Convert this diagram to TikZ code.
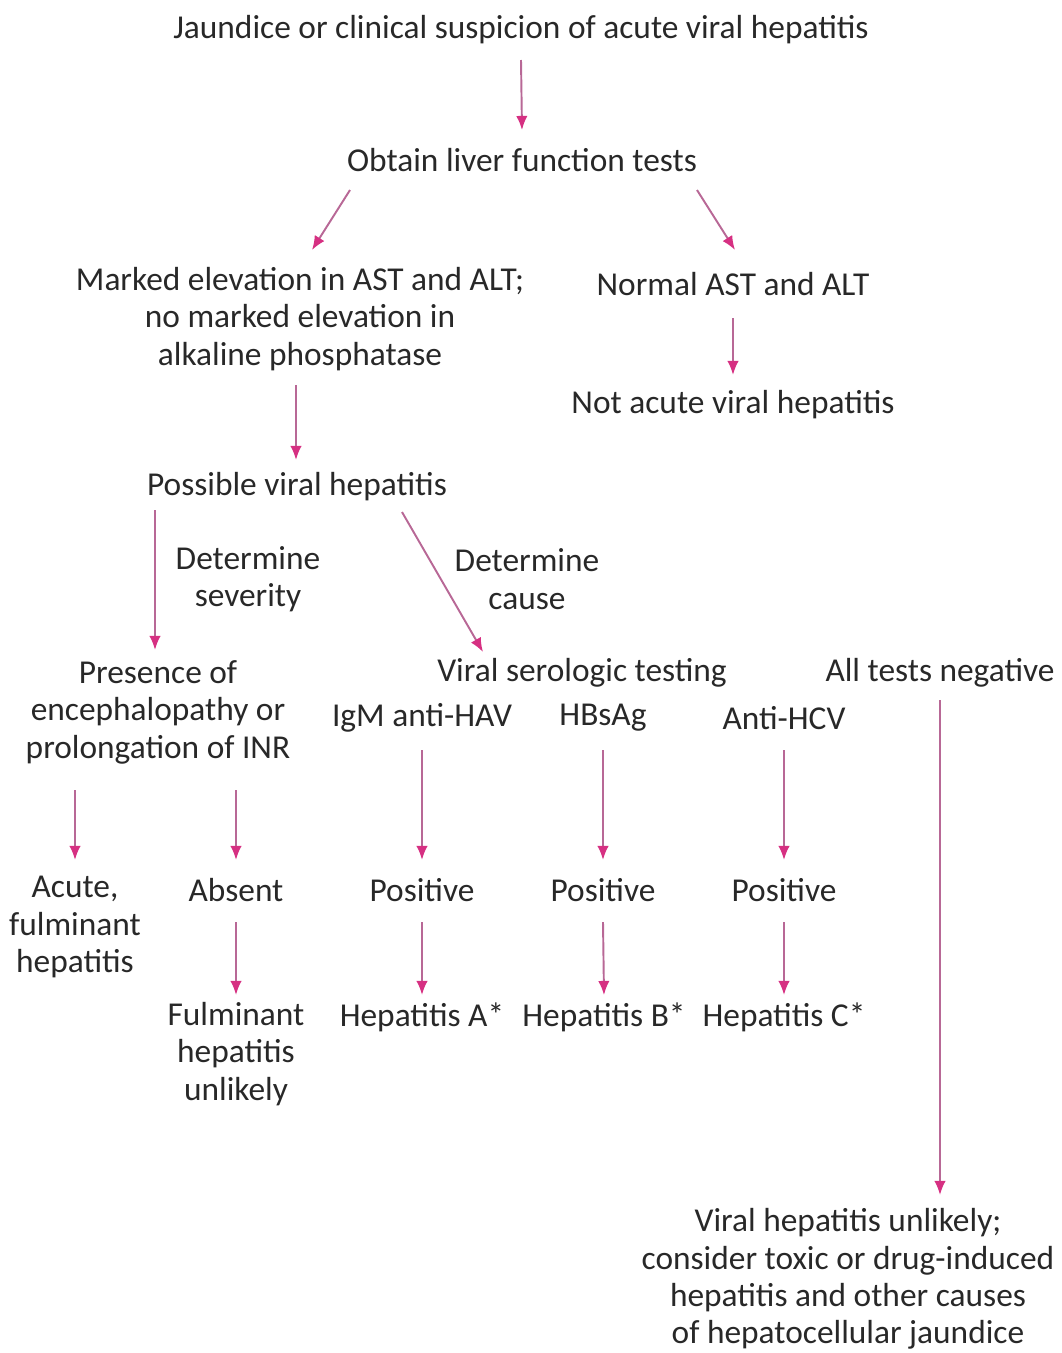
\documentclass[tikz,border=0pt]{standalone}
\usepackage{fontspec}
\setmainfont{Carlito}
\usepackage{tikz}
\usetikzlibrary{arrows.meta, calc}
\definecolor{txtgray}{RGB}{40,40,40}
\definecolor{shaftpink}{RGB}{184,104,150}
\definecolor{tippink}{RGB}{214,48,130}
\tikzstyle{every node}=[font=\fontsize{19}{21.3}\selectfont, text=txtgray]
\tikzstyle{txt}=[align=center, inner sep=0pt]
\tikzstyle{arr}=[draw=shaftpink, line width=1.1pt, -{Latex[length=8pt,width=6.5pt,color=tippink]}]

\begin{document}
\begin{tikzpicture}[x=0.02cm, y=-0.02cm]
  \useasboundingbox (0,0) rectangle (1062,1353);
  % top of the chart
  \node[txt] (jaundice) at (521,30) {Jaundice or clinical suspicion of acute viral hepatitis};
  \node[txt] (lft) at (522,160) {Obtain liver function tests};
  \node[txt] (marked) at (300,319) {Marked elevation in AST and ALT;\\ no marked elevation in\\ alkaline phosphatase};
  \node[txt] (normal) at (733,284) {Normal AST and ALT};
  \node[txt] (notacute) at (733,405) {Not acute viral hepatitis};
  \node[txt] (possible) at (297,487) {Possible viral hepatitis};
  \node[txt] (severity) at (248,579) {Determine\\ severity};
  \node[txt] (cause) at (527,579) {Determine\\ cause};
  % severity branch
  \node[txt] (presence) at (158,712) {Presence of\\ encephalopathy or\\ prolongation of INR};
  \node[txt] (acute) at (75,927) {Acute,\\ fulminant\\ hepatitis};
  \node[txt] (absent) at (236,890) {Absent};
  \node[txt] (unlikely) at (236,1054) {Fulminant\\ hepatitis\\ unlikely};
  % cause branch
  \node[txt] (serology) at (582,673) {Viral serologic testing};
  \node[txt] (negative) at (940,673) {All tests negative};
  \node[txt] (hav) at (422,718) {IgM anti-HAV};
  \node[txt] (hbs) at (603,718) {HBsAg};
  \node[txt] (hcv) at (784,718) {Anti-HCV};
  \node[txt] (posA) at (422,890) {Positive};
  \node[txt] (posB) at (603,890) {Positive};
  \node[txt] (posC) at (784,890) {Positive};
  \node[txt] (hepA) at (422,1017) {Hepatitis A*};
  \node[txt] (hepB) at (604,1017) {Hepatitis B*};
  \node[txt] (hepC) at (784,1017) {Hepatitis C*};
  \node[txt] (other) at (848,1279) {Viral hepatitis unlikely;\\ consider toxic or drug-induced\\ hepatitis and other causes\\ of hepatocellular jaundice};
  % arrows
  \draw[arr] ($(jaundice)+(0,30)$) -- ($(lft)+(0,-30)$);
  \draw[arr] ($(lft)+(-172,30)$) -- ($(marked)+(12,-69)$);
  \draw[arr] ($(lft)+(175,30)$) -- ($(normal)+(2,-34)$);
  \draw[arr] ($(normal)+(0,34)$) -- ($(notacute)+(0,-30)$);
  \draw[arr] ($(marked)+(-4,66)$) -- ($(possible)+(-1,-27)$);
  \draw[arr] ($(possible)+(-142,23)$) -- ($(presence)+(-3,-62)$);
  \draw[arr] ($(possible)+(105,25)$) -- ($(serology)+(-99,-21)$);
  \draw[arr] ($(presence)+(-83,78)$) -- ($(acute)+(0,-67)$);
  \draw[arr] ($(presence)+(78,78)$) -- ($(absent)+(0,-30)$);
  \draw[arr] ($(absent)+(0,32)$) -- ($(unlikely)+(0,-59)$);
  \draw[arr] ($(hav)+(0,32)$) -- ($(posA)+(0,-30)$);
  \draw[arr] ($(hbs)+(0,32)$) -- ($(posB)+(0,-30)$);
  \draw[arr] ($(hcv)+(0,32)$) -- ($(posC)+(0,-30)$);
  \draw[arr] ($(posA)+(0,32)$) -- ($(hepA)+(0,-22)$);
  \draw[arr] ($(posB)+(0,32)$) -- ($(hepB)+(0,-22)$);
  \draw[arr] ($(posC)+(0,32)$) -- ($(hepC)+(0,-22)$);
  \draw[arr] ($(negative)+(0,27)$) -- ($(other)+(92,-84)$);
\end{tikzpicture}
\end{document}
